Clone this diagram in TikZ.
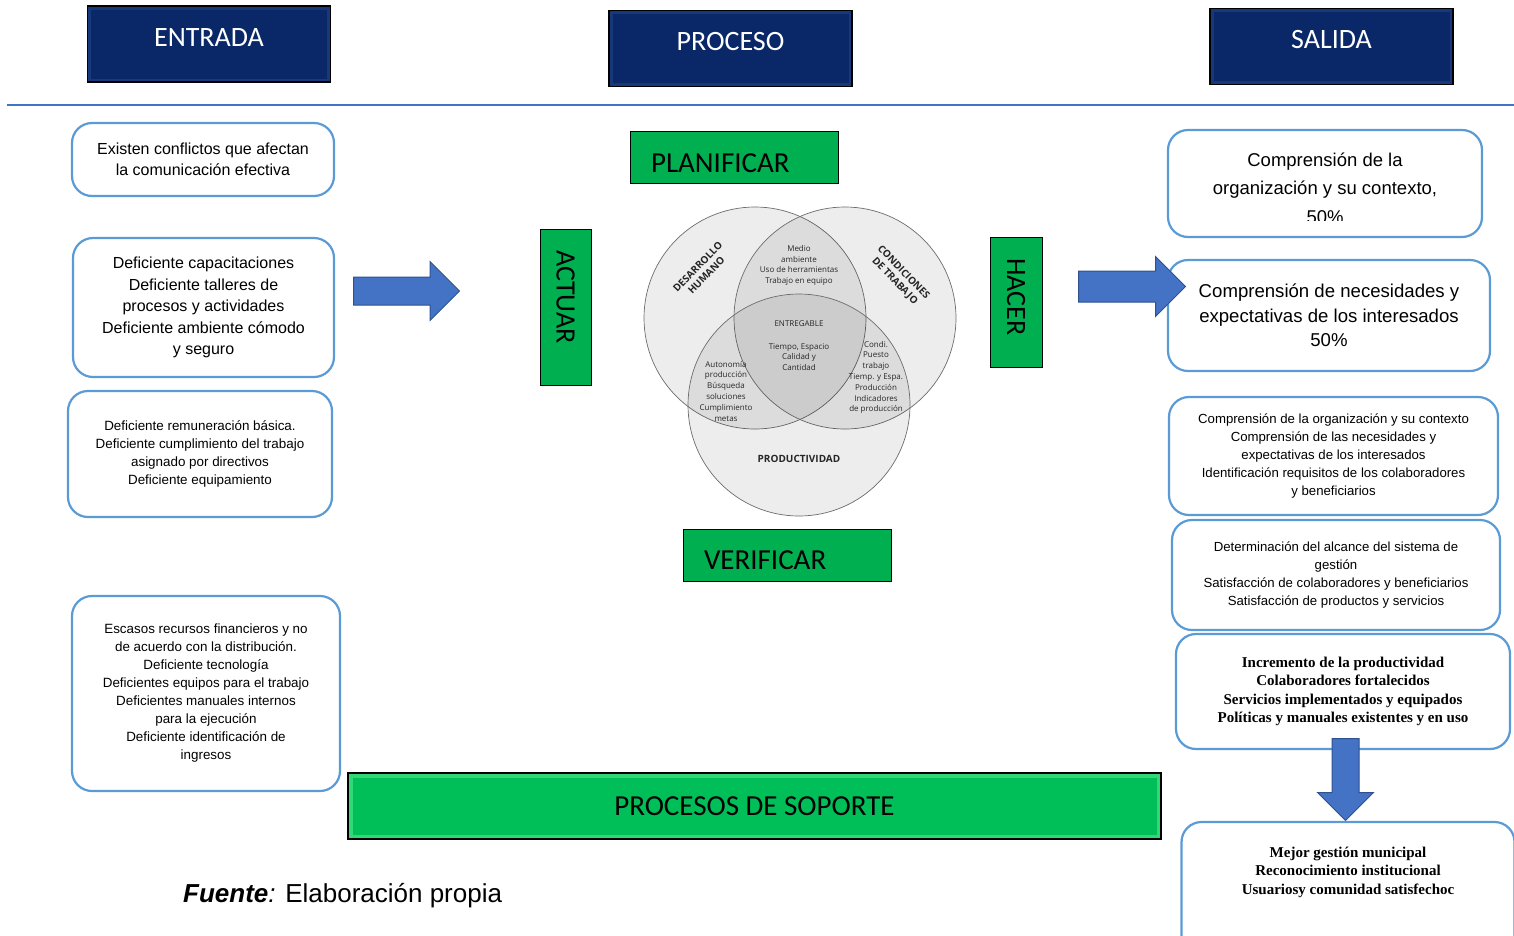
\documentclass[tikz,border=0pt]{standalone}
\usepackage{fontspec}
\setmainfont{Liberation Sans}
\newfontfamily\calibrifont{Carlito}
\newfontfamily\vennfont{Open Sans}
\newfontfamily\timesfont{Liberation Serif}
\usetikzlibrary{positioning,shapes.arrows}

\definecolor{navyhead}{RGB}{10,40,104}
\definecolor{navyedge}{RGB}{24,56,124}
\definecolor{boxblue}{RGB}{91,155,213}
\definecolor{rulecol}{RGB}{68,114,196}
\definecolor{phasegreen}{RGB}{0,176,80}
\definecolor{soportegreen}{RGB}{0,190,88}
\definecolor{soporteedge}{RGB}{50,215,120}
\definecolor{arrowblue}{RGB}{68,114,196}
\definecolor{arrowedge}{RGB}{47,82,143}

\begin{document}
\begin{tikzpicture}[x=1pt, y=-1pt,
    head/.style={rectangle, draw=black, line width=1.5pt, fill=navyhead, text=white,
        minimum width=243pt, inner sep=0pt, text height=40pt, text depth=36pt,
        font=\calibrifont\fontsize{28}{32}\selectfont,
        path picture={\draw[navyedge, line width=7pt] (path picture bounding box.north west) rectangle (path picture bounding box.south east);}},
    phase/.style={rectangle, draw=black, line width=0.8pt, fill=phasegreen, inner xsep=21pt, inner ysep=0pt,
        align=left, font=\calibrifont\fontsize{29}{32}\selectfont},
    inbox/.style={rectangle, rounded corners=20pt, draw=boxblue, line width=2.2pt, fill=white, align=center, inner sep=0pt},
    bigarrow/.style={single arrow, draw=arrowedge, line width=1pt, fill=arrowblue, inner xsep=0pt, single arrow tip angle=90, anchor=tail},
    venn/.style={circle, draw=gray!85!black, line width=0.7pt, fill=black, fill opacity=0.07, minimum size=222pt, inner sep=0pt},
    vtext/.style={font=\vennfont\fontsize{8}{10.8}\selectfont, align=center, inner sep=0pt, text=black!85},
    vtitle/.style={font=\vennfont\bfseries\fontsize{10}{12}\selectfont, align=center, inner sep=0pt, text=black!85},
    soporte/.style={rectangle, draw=black, line width=2pt, fill=soportegreen, minimum width=813pt, minimum height=66pt,
        font=\calibrifont\fontsize{29}{32}\selectfont,
        path picture={\draw[soporteedge, line width=9pt] (path picture bounding box.north west) rectangle (path picture bounding box.south east);}},
]
\clip (0,0) rectangle (1514,935);

% Headers
\node[head] (entrada) at (209,44) {ENTRADA};
\node[head] (proceso) at (730.5,48.5) {PROCESO};
\node[head] (salida) at (1331.5,46.5) {SALIDA};
\draw[rulecol, line width=1.3pt] (7,105) -- (1514,105);

% Entradas
\node[inbox, minimum width=262pt, minimum height=73pt, font=\fontsize{16}{21}\selectfont] (conflictos) at (203,159.5)
    {Existen conflictos que afectan\\la comunicación efectiva};
\node[inbox, minimum width=261pt, minimum height=139pt, font=\fontsize{16}{21.5}\selectfont] (capacita) at (203.5,307.5)
    {Deficiente capacitaciones\\Deficiente talleres de\\procesos y actividades\\Deficiente ambiente cómodo\\y seguro};
\node[inbox, minimum width=264pt, minimum height=126pt, font=\fontsize{13.4}{18}\selectfont] (remunera) at (200,454)
    {Deficiente remuneración básica.\\Deficiente cumplimiento del trabajo\\asignado por directivos\\Deficiente equipamiento};
\node[inbox, minimum width=268pt, minimum height=195pt, font=\fontsize{13.4}{18}\selectfont] (recursos) at (206,693.5)
    {Escasos recursos financieros y no\\de acuerdo con la distribución.\\Deficiente tecnología\\Deficientes equipos para el trabajo\\Deficientes manuales internos\\para la ejecución\\Deficiente identificación de\\ingresos};

% Flecha de entrada
\node[bigarrow, inner ysep=13.5pt, single arrow head extend=15.5pt, minimum height=106pt] (flechain) at (353,291) {};

% Ciclo
\node[phase, text width=166pt, text height=41pt, text depth=11pt] (planificar) at (734,157) {PLANIFICAR};
\node[phase, text width=166pt, text height=40pt, text depth=12pt] (verificar) at (787,555) {VERIFICAR};
\node[phase, rotate=-90, text width=114pt, minimum height=51pt, font=\calibrifont\fontsize{28}{32}\selectfont] (actuar) at (565.5,307) {ACTUAR};
\node[phase, rotate=-90, text width=88pt, minimum height=52pt, font=\calibrifont\fontsize{28}{32}\selectfont] (hacer) at (1016,302) {HACER};

% Venn
\node[venn] (desarrollo) at (755,318) {};
\node[venn] (condiciones) at (845,318) {};
\node[venn] (productividad) at (799,405) {};
\node[vtitle, rotate=46] (desarrollotxt) at (702,271) {DESARROLLO\\HUMANO};
\node[vtitle, rotate=-46] (condicionestxt) at (899,277) {CONDICIONES\\DE TRABAJO};
\node[vtitle] (productividadtxt) at (799,459) {PRODUCTIVIDAD};
\node[vtext] (medio) at (799,265.5) {Medio\\ambiente\\Uso de herramientas\\Trabajo en equipo};
\node[vtext] (entregable) at (799,324) {ENTREGABLE};
\node[vtext] (tiempo) at (799,357) {Tiempo, Espacio\\Calidad y\\Cantidad};
\node[vtext] (autonomia) at (726,391) {Autonomía\\producción\\Búsqueda\\soluciones\\Cumplimiento\\metas};
\node[vtext] (condi) at (876,377.5) {Condi.\\Puesto\\trabajo\\Tiemp. y Espa.\\Producción\\Indicadores\\de producción};

% Soporte
\node[soporte] (soporte) at (754.5,806) {PROCESOS DE SOPORTE};

% Salidas
\node[inbox, minimum width=314pt, minimum height=107pt] (organiza) at (1325,183.5) {};
\begin{scope}
  \clip (1172,134) rectangle (1478,220);
  \node[align=center, font=\fontsize{18.5}{28.5}\selectfont] (organizatxt) at (1325,188)
      {Comprensión de la\\organización y su contexto,\\50\%};
\end{scope}
\node[inbox, minimum width=322pt, minimum height=111pt, font=\fontsize{18.6}{24.5}\selectfont] (necesidades) at (1329,315.5)
    {Comprensión de necesidades y\\expectativas de los interesados\\50\%};
\node[bigarrow, inner ysep=15pt, single arrow head extend=14.5pt, minimum height=107pt] (flechaout) at (1078,286.5) {};
\node[inbox, minimum width=329pt, minimum height=118pt, font=\fontsize{13.2}{18}\selectfont] (identifica) at (1333.5,456)
    {Comprensión de la organización y su contexto\\Comprensión de las necesidades y\\expectativas de los interesados\\Identificación requisitos de los colaboradores\\y beneficiarios};
\node[inbox, minimum width=328pt, minimum height=110pt, font=\fontsize{13.2}{18}\selectfont] (alcance) at (1336,575)
    {Determinación del alcance del sistema de\\gestión\\Satisfacción de colaboradores y beneficiarios\\Satisfacción de productos y servicios};
\node[inbox, minimum width=334pt, minimum height=115pt, font=\timesfont\bfseries\fontsize{15}{18.5}\selectfont] (incremento) at (1343,691.5)
    {Incremento de la productividad\\Colaboradores fortalecidos\\Servicios implementados y equipados\\Políticas y manuales existentes y en uso};
\node[bigarrow, rotate=-90, inner ysep=13pt, single arrow head extend=14.5pt, minimum height=82pt] (flechadown) at (1345.5,738) {};
\node[inbox, minimum width=333pt, minimum height=140pt] (gestion) at (1348,892) {};
\node[align=center, font=\timesfont\bfseries\fontsize{15}{18.5}\selectfont] (gestiontxt) at (1348,872)
    {Mejor gestión municipal\\Reconocimiento institucional\\Usuariosy comunidad satisfechoc};

% Fuente
\node[anchor=base west, inner sep=0pt, font=\fontsize{26}{30}\selectfont] (fuente) at (183,902)
    {\textbf{\textit{Fuente}}\textit{:} Elaboración propia};
\end{tikzpicture}
\end{document}
